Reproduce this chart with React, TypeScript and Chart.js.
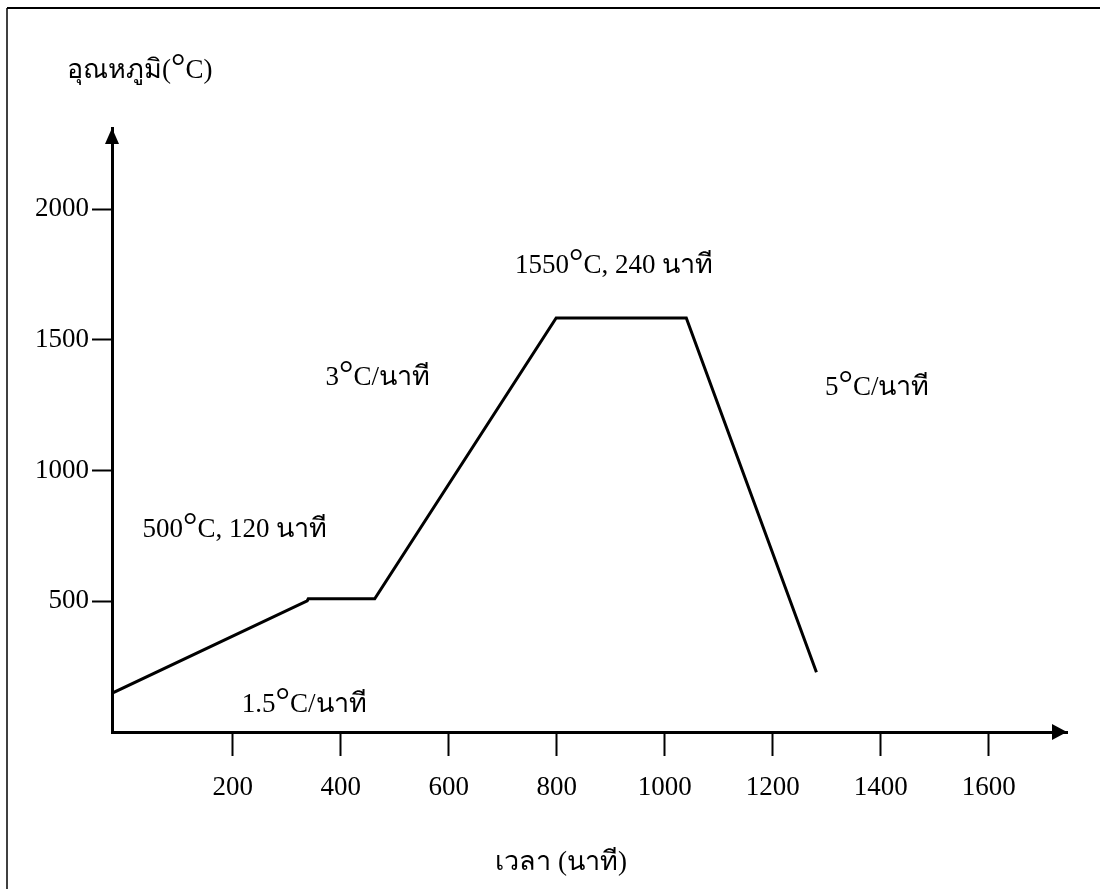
import React, { useEffect, useRef } from "react";
import { Chart, registerables } from "chart.js";

Chart.register(...registerables);

// ---- data ----
const timeMin = [-23, 338, 340, 463, 799, 1040, 1281];
const tempC = [149, 502, 510, 510, 1584, 1584, 229];

const xTickValues = [200, 400, 600, 800, 1000, 1200, 1400, 1600];
const yTickValues = [500, 1000, 1500, 2000];

const yAxisTitle = ["อุณหภูมิ(", "°", "C)"];
const xAxisTitle = "เวลา (นาที)";

// annotation texts: [before degree, after degree]
const annoTexts: [string, string][] = [
  ["500", "C, 120 นาที"],
  ["1.5", "C/นาที"],
  ["3", "C/นาที"],
  ["1550", "C, 240 นาที"],
  ["5", "C/นาที"],
];
// anchor (data coords of text start/baseline)
const annoX = [33, 217, 372, 723, 1297];
const annoY = [745, 78, 1326, 1755, 1288];

const W = 1100;
const H = 889;
const FONT = "'Liberation Serif', 'Times New Roman', serif";
const FS = 27;

function drawDegText(ctx: CanvasRenderingContext2D, x: number, y: number, a: string, b: string, size = FS) {
  ctx.font = `${size}px ${FONT}`;
  ctx.fillText(a, x, y);
  let cx = x + ctx.measureText(a).width;
  ctx.font = `${Math.round(size * 1.35)}px ${FONT}`;
  ctx.fillText("°", cx, y);
  cx += ctx.measureText("°").width;
  ctx.font = `${size}px ${FONT}`;
  ctx.fillText(b, cx, y);
}

const decorPlugin = {
  id: "decor",
  beforeDraw(chart: any) {
    const ctx = chart.ctx as CanvasRenderingContext2D;
    ctx.save();
    ctx.fillStyle = "#fff";
    ctx.fillRect(0, 0, W, H);
    ctx.strokeStyle = "#000";
    ctx.lineWidth = 2;
    ctx.beginPath();
    ctx.moveTo(7, 8);
    ctx.lineTo(W, 8);
    ctx.stroke();
    ctx.lineWidth = 1.5;
    ctx.beginPath();
    ctx.moveTo(7, 8);
    ctx.lineTo(7, H);
    ctx.stroke();
    ctx.restore();
  },
  afterDraw(chart: any) {
    const ctx = chart.ctx as CanvasRenderingContext2D;
    const { chartArea } = chart;
    const xs = chart.scales.x;
    const ys = chart.scales.y;
    ctx.save();
    ctx.fillStyle = "#000";
    // arrow heads
    const axY = chartArea.bottom;
    const axX = chartArea.left;
    ctx.beginPath();
    ctx.moveTo(chartArea.right, axY);
    ctx.lineTo(chartArea.right - 15, axY - 8);
    ctx.lineTo(chartArea.right - 15, axY + 8);
    ctx.closePath();
    ctx.fill();
    ctx.beginPath();
    ctx.moveTo(axX, chartArea.top);
    ctx.lineTo(axX - 7, chartArea.top + 16);
    ctx.lineTo(axX + 7, chartArea.top + 16);
    ctx.closePath();
    ctx.fill();

    ctx.textBaseline = "alphabetic";
    ctx.textAlign = "left";
    // annotations
    annoTexts.forEach((t, i) => {
      const px = xs.getPixelForValue(annoX[i]);
      const py = ys.getPixelForValue(annoY[i]);
      drawDegText(ctx, px, py, t[0], t[1]);
    });
    // axis titles
    drawDegText(ctx, 67, 78, yAxisTitle[0], yAxisTitle[2]);
    ctx.font = `${FS}px ${FONT}`;
    ctx.textAlign = "center";
    ctx.fillText(xAxisTitle, 561, 870);
    ctx.restore();
  },
};

export default function App() {
  const ref = useRef<HTMLCanvasElement>(null);
  useEffect(() => {
    if (!ref.current) return;
    const chart = new Chart(ref.current, {
      type: "line",
      data: {
        datasets: [
          {
            data: timeMin.map((t, i) => ({ x: t, y: tempC[i] })),
            borderColor: "#000",
            borderWidth: 3,
            pointRadius: 0,
            tension: 0,
            fill: false,
          },
        ],
      },
      options: {
        animation: false,
        responsive: false,
        devicePixelRatio: 1,
        layout: { padding: { left: 0, top: 128, right: 33, bottom: 0 } },
        plugins: { legend: { display: false }, tooltip: { enabled: false }, title: { display: false } },
        scales: {
          x: {
            type: "linear",
            min: -23.5,
            max: 1745,
            border: { display: true, color: "#000", width: 3 },
            grid: { drawOnChartArea: false, drawTicks: true, tickLength: 24, tickWidth: 2, tickColor: "#000" },
            ticks: {
              stepSize: 200,
              color: "#000",
              font: { family: FONT, size: FS },
              padding: 16,
              maxRotation: 0,
              autoSkip: false,
              callback: (v: any) => String(v),
            },
            afterBuildTicks: (s: any) => {
              s.ticks = xTickValues.map((v) => ({ value: v }));
            },
            afterFit: (s: any) => {
              s.height = H - 732;
            },
          },
          y: {
            type: "linear",
            min: 0,
            max: 2311,
            border: { display: true, color: "#000", width: 3 },
            grid: { drawOnChartArea: false, drawTicks: true, tickLength: 20, tickWidth: 2, tickColor: "#000" },
            ticks: {
              stepSize: 500,
              color: "#000",
              font: { family: FONT, size: FS },
              padding: 3,
              autoSkip: false,
              callback: (v: any) => String(v),
            },
            afterBuildTicks: (s: any) => {
              s.ticks = yTickValues.map((v) => ({ value: v }));
            },
            afterFit: (s: any) => {
              s.width = 112;
            },
          },
        },
      },
      plugins: [decorPlugin],
    });
    return () => chart.destroy();
  }, []);
  return (
    <div style={{ position: "absolute", left: 0, top: 0, width: W, height: H, background: "#fff" }}>
      <canvas ref={ref} width={W} height={H} style={{ display: "block" }} />
    </div>
  );
}
